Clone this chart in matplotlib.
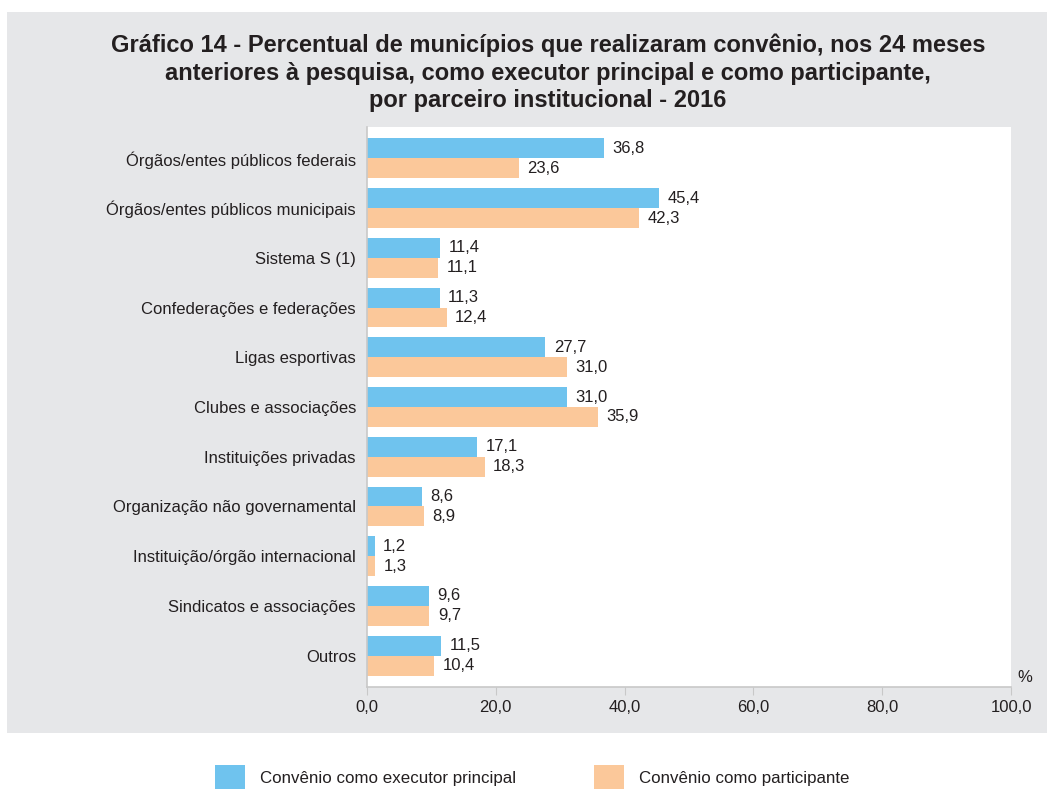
import matplotlib.pyplot as plt
from matplotlib.patches import Rectangle
import numpy as np

plt.rcParams['font.family'] = ['Liberation Sans', 'DejaVu Sans']

categorias = ['Órgãos/entes públicos federais', 'Órgãos/entes públicos municipais',
              'Sistema S (1)', 'Confederações e federações', 'Ligas esportivas',
              'Clubes e associações', 'Instituições privadas',
              'Organização não governamental', 'Instituição/órgão internacional',
              'Sindicatos e associações', 'Outros']
executor = [36.8, 45.4, 11.4, 11.3, 27.7, 31.0, 17.1, 8.6, 1.2, 9.6, 11.5]
participante = [23.6, 42.3, 11.1, 12.4, 31.0, 35.9, 18.3, 8.9, 1.3, 9.7, 10.4]
ticks_x = [0, 20, 40, 60, 80, 100]

azul = '#6FC3EE'
laranja = '#FBC89A'
cinza = '#E6E7E9'

W, H = 1047, 789
fig = plt.figure(figsize=(W / 100, H / 100), dpi=100)
fig.patch.set_facecolor('white')

# painel cinza
fig.patches.append(Rectangle((7 / W, (H - 733) / H), (W - 7) / W, (733 - 12) / H,
                             transform=fig.transFigure, facecolor=cinza,
                             edgecolor='none', zorder=0))

fig.text(548 / W, 1 - 73 / H,
         'Gráfico 14 - Percentual de municípios que realizaram convênio, nos 24 meses\n'
         'anteriores à pesquisa, como executor principal e como participante,\n'
         'por parceiro institucional - 2016',
         ha='center', va='center', fontsize=17, fontweight='bold',
         color='#231F20', linespacing=1.25, transform=fig.transFigure)

x0, x1, y0, y1 = 367, 1011, 127, 687
ax = fig.add_axes([x0 / W, (H - y1) / H, (x1 - x0) / W, (y1 - y0) / H])
ax.set_zorder(2)
ax.set_facecolor('white')

y = np.arange(len(categorias))
h = 0.4
ax.barh(y - h / 2, executor, height=h, color=azul, zorder=2)
ax.barh(y + h / 2, participante, height=h, color=laranja, zorder=2)

for yi, v in zip(y - h / 2, executor):
    ax.annotate(f'{v:.1f}'.replace('.', ','), (v, yi), xytext=(6, 0),
                textcoords='offset points', va='center', ha='left',
                fontsize=12, color='#231F20')
for yi, v in zip(y + h / 2, participante):
    ax.annotate(f'{v:.1f}'.replace('.', ','), (v, yi), xytext=(6, 0),
                textcoords='offset points', va='center', ha='left',
                fontsize=12, color='#231F20')

ax.set_xlim(0, 100)
ax.set_ylim(len(categorias) - 0.37, -0.63)
ax.set_yticks(y)
ax.set_yticklabels(categorias, fontsize=12, color='#231F20')
ax.set_xticks(ticks_x)
ax.set_xticklabels([f'{t:.1f}'.replace('.', ',') for t in ticks_x],
                   fontsize=12, color='#231F20')
ax.tick_params(axis='y', length=0, pad=8)
ax.tick_params(axis='x', length=6, color='#C8C8C8', pad=3)
for s in ['top', 'right']:
    ax.spines[s].set_visible(False)
for s in ['left', 'bottom']:
    ax.spines[s].set_color('#C8C8C8')
    ax.spines[s].set_linewidth(1.2)

fig.text(1025 / W, 1 - 678 / H, '%', ha='center', va='center', fontsize=12,
         color='#231F20')

# legenda
for px, cor, txt in [(215, azul, 'Convênio como executor principal'),
                     (594, laranja, 'Convênio como participante')]:
    fig.patches.append(Rectangle((px / W, (H - 790) / H), 30 / W, 25 / H,
                                 transform=fig.transFigure, facecolor=cor,
                                 edgecolor='none'))
    fig.text((px + 45) / W, 1 - 778 / H, txt, ha='left', va='center',
             fontsize=12.2, color='#231F20')

fig.savefig('out.png', dpi=100, facecolor='white')
